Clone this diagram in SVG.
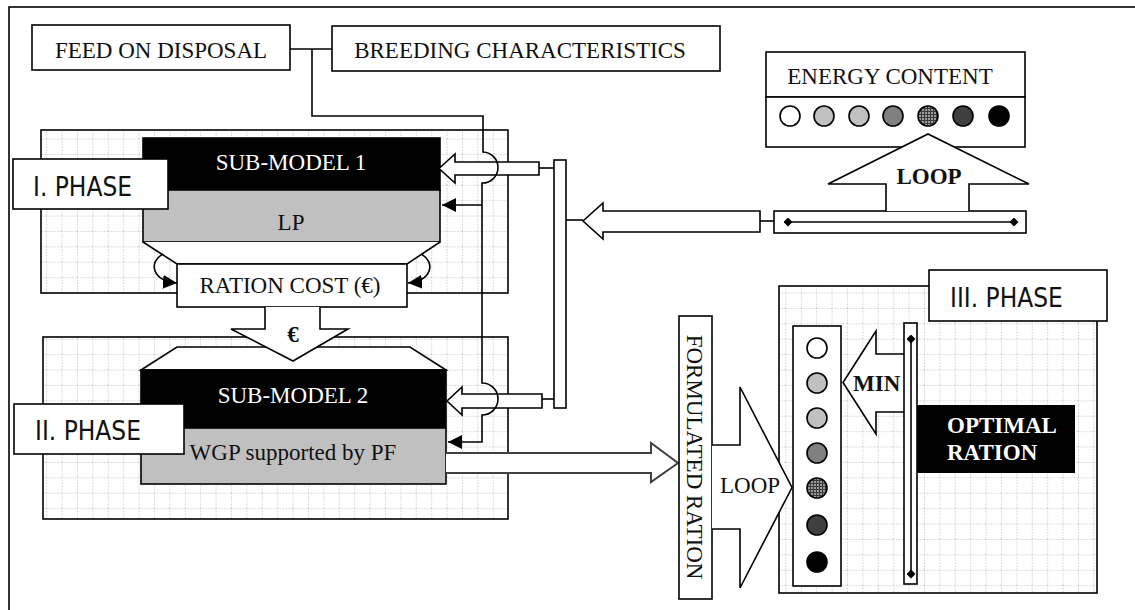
<svg xmlns="http://www.w3.org/2000/svg" width="1135" height="610" viewBox="0 0 1135 610">
<style>
.box{fill:#fff;stroke:#000;stroke-width:1.6}
.ln{fill:none;stroke:#000;stroke-width:1.6}
.ha{fill:#fff;stroke:#000;stroke-width:1.6;stroke-linejoin:miter}
.t{font-family:"Liberation Serif","Times New Roman",serif;font-size:23px;fill:#111}
.tb{font-family:"Liberation Serif","Times New Roman",serif;font-size:23px;font-weight:bold;fill:#111}
.tw{font-family:"Liberation Serif","Times New Roman",serif;font-size:23px;fill:#fff}
.ph{font-family:"DejaVu Sans Condensed","DejaVu Sans",sans-serif;font-size:26px;fill:#111}
.panel{fill:url(#grid);stroke:#000;stroke-width:1.6}
.c{stroke:#000;stroke-width:1.6}
</style>
<defs>
<pattern id="grid" width="15.4" height="15.4" patternUnits="userSpaceOnUse" x="0" y="0">
<rect width="15.4" height="15.4" fill="#fff"/>
<path d="M0,0.5 H15.4 M0.5,0 V15.4" stroke="#cacaca" stroke-width="1" stroke-dasharray="1.2,1.6" fill="none"/>
</pattern>
<pattern id="hatch" width="3" height="3" patternUnits="userSpaceOnUse">
<rect width="3" height="3" fill="#9a9a9a"/>
<path d="M0,0.5H3M0.5,0V3" stroke="#3a3a3a" stroke-width="1"/>
</pattern>
<marker id="ah" viewBox="0 0 10 10" refX="10" refY="5" markerWidth="14" markerHeight="14" markerUnits="userSpaceOnUse" orient="auto" preserveAspectRatio="none">
<path d="M0,0 L10,5 L0,10 z" fill="#000"/>
</marker>
<marker id="dm" viewBox="0 0 10 10" refX="5" refY="5" markerWidth="9" markerHeight="9" markerUnits="userSpaceOnUse">
<path d="M0,5 L5,0 L10,5 L5,10 z" fill="#000"/>
</marker>
</defs>

<rect x="0" y="0" width="1135" height="610" fill="#fff"/>
<rect id="frame" x="9" y="7" width="1150" height="630" fill="none" stroke="#000" stroke-width="1.6"/>

<g id="feed-on-disposal">
<rect class="box" x="32" y="25" width="258" height="45"/>
<text class="t" x="161" y="58" text-anchor="middle">FEED ON DISPOSAL</text>
</g>
<g id="breeding-characteristics">
<rect class="box" x="332" y="26" width="388" height="45"/>
<text class="t" x="520" y="58" text-anchor="middle">BREEDING CHARACTERISTICS</text>
</g>

<g id="energy-content">
<rect class="box" x="766" y="52" width="259" height="45"/>
<text class="t" x="890" y="84" text-anchor="middle">ENERGY CONTENT</text>
<rect class="box" x="766" y="97" width="259" height="50"/>
<circle class="c" cx="790" cy="116" r="10" fill="#fff"/>
<circle class="c" cx="824" cy="116" r="10" fill="#c0c0c0"/>
<circle class="c" cx="859" cy="116" r="10" fill="#c0c0c0"/>
<circle class="c" cx="893" cy="116" r="10" fill="#808080"/>
<circle class="c" cx="928" cy="116" r="10" fill="url(#hatch)"/>
<circle class="c" cx="963" cy="116" r="10" fill="#404040"/>
<circle class="c" cx="999" cy="116" r="10" fill="#000"/>
</g>

<g id="loop-bar">
<rect class="box" x="774" y="211" width="252" height="22"/>
<path class="ln" d="M788,222 H1014" marker-start="url(#dm)" marker-end="url(#dm)"/>
</g>
<g id="loop-up-arrow">
<path class="ha" d="M886,211 V184 H828 L928,134 L1029,184 H969 V211"/>
<text class="tb" x="929" y="184" text-anchor="middle">LOOP</text>
</g>

<g id="phase-1">
<rect class="panel" x="41" y="130" width="467" height="163"/>
<rect x="143" y="138" width="297" height="52" fill="#000" stroke="#000" stroke-width="1.6"/>
<text class="tw" x="291" y="170" text-anchor="middle">SUB-MODEL 1</text>
<rect x="143" y="190" width="297" height="52" fill="#c0c0c0" stroke="#000" stroke-width="1.6"/>
<text class="t" x="291" y="230" text-anchor="middle">LP</text>
</g>

<g id="phase-2">
<rect class="panel" x="43" y="337" width="465" height="182"/>
<path class="ha" d="M141,370 L177,347 H410 L446,370 Z"/>
<rect x="141" y="370" width="305" height="58" fill="#000" stroke="#000" stroke-width="1.6"/>
<text class="tw" x="293" y="403" text-anchor="middle">SUB-MODEL 2</text>
<rect x="141" y="428" width="305" height="56" fill="#c0c0c0" stroke="#000" stroke-width="1.6"/>
<text class="t" x="293" y="460" text-anchor="middle">WGP supported by PF</text>
</g>

<g id="ration-cost">
<path class="ha" d="M143,242 L177,264 H407 L440,242"/>
<rect class="box" x="177" y="264" width="230" height="43"/>
<text class="t" x="290" y="293" text-anchor="middle">RATION COST (€)</text>
<path class="ha" d="M265,307 V329 H231 L293,361 L348,329 H320 V307"/>
<text class="tb" x="293" y="342" text-anchor="middle">€</text>
<path class="ln" d="M163,254 C148,262 152,281 177,283" marker-end="url(#ah)"/>
<path class="ln" d="M421,254 C436,262 432,281 408,283" marker-end="url(#ah)"/>
</g>

<g id="phase-1-label">
<rect class="box" x="13" y="159" width="155" height="50"/>
<text class="ph" x="33" y="196">I. PHASE</text>
</g>
<g id="phase-2-label">
<rect class="box" x="14" y="404" width="170" height="50"/>
<text class="ph" x="35" y="440">II. PHASE</text>
</g>

<g id="vertical-bar">
<rect class="box" x="554" y="160" width="12" height="248"/>
</g>

<g id="connectors">
<path class="ln" d="M290,49 H332"/>
<path class="ha" d="M539,162 H455 V154 L439,168.5 L455,183 V175 H539 Z"/>
<path class="ln" d="M539,168 H554"/>
<path class="ha" d="M542,394 H462 V387 L447,401 L462,415 V408 H542 Z"/>
<path class="ln" d="M542,399 H554"/>
<path class="ha" d="M760,211 H603 V203 L583,221 L603,239 V232 H760 Z"/>
<path class="ln" d="M566,220 H583"/>
<path class="ln" d="M760,221 H774"/>
<path class="ln" d="M312,49 V116 H483 V152 A15.5,15.5 0 0 1 482,183 V383 A16,16 0 0 1 482,415 V442 H448" marker-end="url(#ah)"/>
<path class="ln" d="M482,205 H442" marker-end="url(#ah)"/>
<path d="M446,453 H651 V443 L678,463 L651,482 V473 H446" fill="#fff" stroke="#404040" stroke-width="2"/>
</g>

<g id="formulated-ration">
<rect class="box" x="679" y="316" width="33" height="283"/>
<text class="t" transform="translate(687,457) rotate(90)" text-anchor="middle">FORMULATED RATION</text>
</g>

<g id="phase-3">
<rect class="panel" x="779" y="286" width="318" height="307"/>
</g>

<g id="loop-right-arrow">
<path class="ha" d="M712,445 H740 V387 L792,487.5 L740,588 V529 H712"/>
<text class="t" x="750" y="493" text-anchor="middle">LOOP</text>
</g>

<g id="ration-column">
<rect class="box" x="793" y="326" width="48" height="260"/>
<circle class="c" cx="817" cy="348" r="10" fill="#fff"/>
<circle class="c" cx="817" cy="383" r="10" fill="#c0c0c0"/>
<circle class="c" cx="817" cy="418" r="10" fill="#c0c0c0"/>
<circle class="c" cx="817" cy="453" r="10" fill="#808080"/>
<circle class="c" cx="817" cy="488" r="10" fill="url(#hatch)"/>
<circle class="c" cx="817" cy="525" r="10" fill="#404040"/>
<circle class="c" cx="817" cy="562" r="10" fill="#000"/>
</g>

<g id="min-arrow">
<path class="ha" d="M904,354 H876 V331 L843,382.5 L876,434 V412 H904"/>
<text class="tb" x="853" y="391">MIN</text>
</g>

<g id="min-bar">
<rect class="box" x="904" y="323" width="13" height="261"/>
<path class="ln" d="M911,339 V574" marker-start="url(#dm)" marker-end="url(#dm)"/>
</g>

<g id="optimal-ration">
<rect x="917" y="405" width="158" height="68" fill="#000"/>
<text class="tb" x="947" y="433" style="fill:#fff">OPTIMAL</text>
<text class="tb" x="947" y="460" style="fill:#fff">RATION</text>
</g>

<g id="phase-3-label">
<rect class="box" x="929" y="270" width="178" height="51"/>
<text class="ph" x="950" y="307">III. PHASE</text>
</g>
</svg>
